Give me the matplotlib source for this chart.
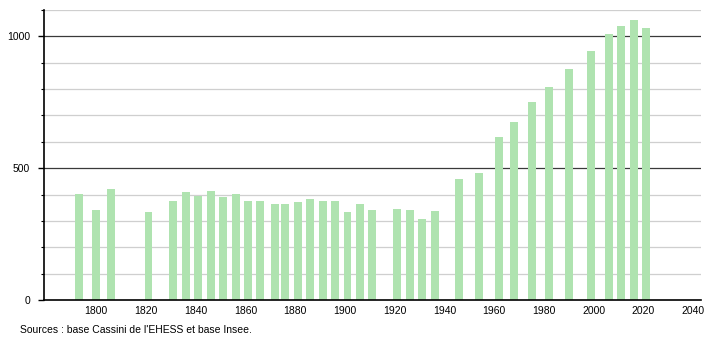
import matplotlib
matplotlib.use("Agg")
import matplotlib.pyplot as plt
from matplotlib.ticker import MultipleLocator

years = [1793, 1800, 1806, 1821, 1831, 1836, 1841, 1846, 1851, 1856, 1861, 1866,
         1872, 1876, 1881, 1886, 1891, 1896, 1901, 1906, 1911, 1921, 1926, 1931,
         1936, 1946, 1954, 1962, 1968, 1975, 1982, 1990, 1999, 2006, 2011, 2016, 2021]
population = [401, 340, 420, 332, 374, 408, 393, 412, 389, 401, 374, 374,
              366, 363, 370, 382, 374, 374, 334, 363, 340, 347, 340, 309,
              336, 458, 481, 618, 676, 752, 809, 878, 943, 1010, 1038, 1061, 1031]
x_ticks = list(range(1800, 2041, 20))
y_ticks = [0, 500, 1000]
source = "Sources : base Cassini de l'EHESS et base Insee."

plt.rcParams['font.family'] = ['Liberation Sans', 'DejaVu Sans']

fig = plt.figure(figsize=(7.1, 3.4), dpi=100)
ax = fig.add_axes([0.062, 0.1176, 0.925, 0.853])

ax.set_xlim(1779, 2043)
ax.set_ylim(0, 1100)

for v in range(100, 1101, 100):
    if v % 500 == 0:
        ax.axhline(v, color='#3a3a3a', lw=0.9, zorder=1)
    else:
        ax.axhline(v, color='#cfcfcf', lw=0.9, zorder=1)

ax.bar(years, population, width=3.2, color='#afe3b0', zorder=2)

ax.set_xticks(x_ticks)
ax.set_xticklabels([str(t) for t in x_ticks])
ax.set_yticks(y_ticks)
ax.yaxis.set_minor_locator(MultipleLocator(100))
ax.tick_params(axis='x', length=0, labelsize=7.5, pad=4)
ax.tick_params(axis='y', which='major', length=4, width=1, labelsize=7.5, pad=6)
ax.tick_params(axis='y', which='minor', length=2.5, width=0.8)

for s in ['top', 'right']:
    ax.spines[s].set_visible(False)
ax.spines['left'].set_linewidth(1.2)
ax.spines['bottom'].set_linewidth(1.2)

fig.text(0.028, 0.03, source, fontsize=7.5, ha='left', va='center')

fig.savefig("out.png", dpi=100)
